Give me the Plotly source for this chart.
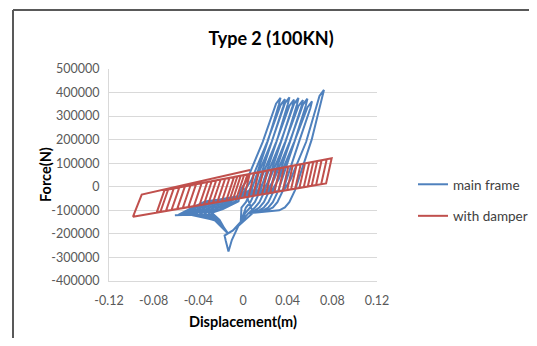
import plotly.graph_objects as go

# ---------------- data ----------------
x_tick_vals = [-0.12, -0.08, -0.04, 0, 0.04, 0.08, 0.12]
x_tick_text = ["-0.12", "-0.08", "-0.04", "0", "0.04", "0.08", "0.12"]
y_tick_vals = [500000, 400000, 300000, 200000, 100000, 0, -100000, -200000, -300000, -400000]
y_tick_text = ["500000", "400000", "300000", "200000", "100000", "0",
               "-100000", "-200000", "-300000", "-400000"]

# main frame: initial pinched spike, then nine growing cycles
blue_spike = [(0, 0), (0.009, -110000), (0.002, -140000), (-0.004, -165000),
              (-0.010, -226000), (-0.013, -275000), (-0.0155, -228000),
              (-0.0165, -207000), (-0.0135, -198000), (-0.0165, -178000),
              (-0.021, -140000), (-0.028, -110000)]
blue_c1 = [(-0.018, -95000), (-0.004, -62000), (-0.0024, -15000), (0.0036, 30000),
           (0.0176, 190000), (0.0296, 353000), (0.0336, 378000), (0.0321, 348000),
           (0.0226, 200000), (0.0076, -15000), (0.0026, -65000), (-0.0014, -88000),
           (-0.002, -150000), (-0.009, -185000), (-0.0135, -198000),
           (-0.0175, -170000), (-0.023, -133000), (-0.031, -112000)]
blue_c2 = [(-0.021, -95000), (-0.007, -62000), (0.0016, -15000), (0.0076, 30000),
           (0.0216, 190000), (0.0336, 347000), (0.0376, 372000), (0.0361, 342000),
           (0.0266, 200000), (0.0116, -15000), (0.0066, -65000), (0.0026, -88000),
           (-0.002, -150000), (-0.009, -185000), (-0.0135, -198000),
           (-0.0185, -164000), (-0.026, -129000), (-0.035, -113000)]
blue_c3 = [(-0.025, -95000), (-0.011, -62000), (0.0056, -15000), (0.0116, 30000),
           (0.0256, 190000), (0.0376, 355000), (0.0416, 380000), (0.0401, 350000),
           (0.0306, 200000), (0.0156, -15000), (0.0106, -65000), (0.0066, -88000),
           (0.002, -112000), (-0.002, -150000), (-0.009, -185000), (-0.0135, -198000),
           (-0.0195, -159000), (-0.029, -126000), (-0.039, -114000)]
blue_c4 = [(-0.029, -95000), (-0.015, -62000), (0.0097, -15000), (0.0157, 30000),
           (0.0297, 190000), (0.0417, 345000), (0.0457, 370000), (0.0442, 340000),
           (0.0347, 200000), (0.0197, -15000), (0.0147, -65000), (0.0107, -88000),
           (0.005, -112000), (-0.002, -150000), (-0.009, -185000), (-0.0135, -198000),
           (-0.0205, -155000), (-0.032, -124000), (-0.043, -115000)]
blue_c5 = [(-0.033, -95000), (-0.019, -62000), (0.0137, -15000), (0.0197, 30000),
           (0.0337, 190000), (0.0457, 352000), (0.0497, 377000), (0.0482, 347000),
           (0.0387, 200000), (0.0237, -15000), (0.0187, -65000), (0.0147, -88000),
           (0.0097, -103000), (0.005, -112000), (-0.002, -150000), (-0.009, -185000),
           (-0.0135, -198000), (-0.0215, -151000), (-0.035, -122000), (-0.047, -116000)]
blue_c6 = [(-0.037, -95000), (-0.023, -62000), (0.0177, -15000), (0.0237, 30000),
           (0.0377, 190000), (0.0497, 343000), (0.0537, 368000), (0.0522, 338000),
           (0.0427, 200000), (0.0277, -15000), (0.0227, -65000), (0.0187, -88000),
           (0.0137, -102000), (0.005, -112000), (-0.002, -150000), (-0.009, -185000),
           (-0.0135, -198000), (-0.0225, -148000), (-0.038, -121000), (-0.051, -117000)]
blue_c7 = [(-0.041, -95000), (-0.027, -62000), (0.0217, -15000), (0.0277, 30000),
           (0.0417, 190000), (0.0537, 349000), (0.0577, 374000), (0.0562, 344000),
           (0.0467, 200000), (0.0317, -15000), (0.0267, -65000), (0.0227, -88000),
           (0.0177, -101000), (0.005, -112000), (-0.002, -150000), (-0.009, -185000),
           (-0.0135, -198000), (-0.0235, -145000), (-0.041, -120000), (-0.055, -118000)]
blue_c8 = [(-0.045, -95000), (-0.031, -62000), (0.0258, -15000), (0.0318, 30000),
           (0.0458, 190000), (0.0578, 338000), (0.0618, 363000), (0.0603, 333000),
           (0.0508, 200000), (0.0358, -15000), (0.0308, -65000), (0.0268, -88000),
           (0.0218, -100000), (0.005, -112000), (-0.002, -150000), (-0.009, -185000),
           (-0.0135, -198000), (-0.0245, -143000), (-0.044, -119000), (-0.058, -119000)]
blue_c9 = [(-0.048, -95000), (-0.034, -62000), (0.0365, -15000), (0.0425, 30000),
           (0.0565, 190000), (0.0685, 386000), (0.0725, 411000), (0.0710, 381000),
           (0.0615, 200000), (0.0465, -15000), (0.0415, -65000), (0.0375, -88000),
           (0.0325, -100000), (0.005, -112000), (-0.002, -150000), (-0.009, -185000),
           (-0.0135, -198000), (-0.0255, -141000), (-0.047, -119000), (-0.061, -121000)]

# with damper: parallelogram loops (top-right, bottom-right, bottom-left, top-left)
red_top_right_x = [0.006, 0.010, 0.014, 0.018, 0.022, 0.0257, 0.0293, 0.0331, 0.0367, 0.0406,
                   0.0445, 0.048, 0.0517, 0.0555, 0.0594, 0.063, 0.0665, 0.0704, 0.075, 0.0794]
red_top_right_y = [54430, 58050, 61670, 65290, 68910, 72260, 75520, 78960, 82210, 85740,
                   89270, 92440, 95790, 99230, 102760, 106020, 109180, 112710, 116880, 120860]
red_bot_right_x = [0.001, 0.005, 0.009, 0.013, 0.017, 0.0207, 0.0243, 0.0281, 0.0317, 0.0356,
                   0.0395, 0.043, 0.0467, 0.0505, 0.0544, 0.058, 0.0615, 0.0654, 0.070, 0.0744]
red_bot_right_y = [-45580, -42310, -39040, -35770, -32490, -29470, -26520, -23410, -20470, -17280,
                   -14090, -11230, -8200, -5090, -1900, 1040, 3910, 7100, 10860, 14460]
red_bot_left_x = [-0.003, -0.006, -0.009, -0.012, -0.015, -0.019, -0.023, -0.027, -0.031, -0.035,
                  -0.039, -0.044, -0.049, -0.054, -0.059, -0.064, -0.069, -0.074, -0.0773, -0.0985]
red_bot_left_y = [-48850, -51310, -53760, -56220, -58670, -61940, -65210, -68490, -71760, -75030,
                  -78300, -82390, -86480, -90570, -94660, -98750, -102840, -106930, -109630, -126970]
red_top_left_x = [0.004, 0.001, -0.002, -0.005, -0.008, -0.012, -0.016, -0.020, -0.024, -0.028,
                  -0.032, -0.037, -0.042, -0.047, -0.052, -0.057, -0.062, -0.067, -0.0703, -0.0907]
red_top_left_y = [52620, 49910, 47190, 44480, 41760, 38140, 34520, 30900, 27280, 23660,
                  20040, 15520, 10990, 6470, 1940, -2590, -7110, -11640, -14620, -33000]
red_start = (0, 0)
red_end = (0.0063, 71000)

# ---------------- build traces ----------------
blue_pts = blue_spike + blue_c1 + blue_c2 + blue_c3 + blue_c4 + blue_c5 + blue_c6 + blue_c7 + blue_c8 + blue_c9
blue_x = [p[0] for p in blue_pts]
blue_y = [p[1] for p in blue_pts]

red_x = [red_start[0]]
red_y = [red_start[1]]
for i in range(len(red_top_right_x)):
    red_x += [red_top_right_x[i], red_bot_right_x[i], red_bot_left_x[i], red_top_left_x[i]]
    red_y += [red_top_right_y[i], red_bot_right_y[i], red_bot_left_y[i], red_top_left_y[i]]
red_x.append(red_end[0])
red_y.append(red_end[1])

FONT = "Lato, 'Open Sans', sans-serif"

# the page body adds an 8px margin on each side: keep the figure inside the window
W, H = 521, 330
L, R, T, B = 101, 369, 61, 273   # plot area in figure pixels
PW, PH = R - L, B - T

fig = go.Figure()
fig.add_trace(go.Scatter(x=blue_x, y=blue_y, mode="lines", name="main frame",
                         line=dict(color="#4F81BD", width=2), legendgroup="a"))
fig.add_trace(go.Scatter(x=red_x, y=red_y, mode="lines", name="with damper",
                         line=dict(color="#C0504D", width=2), legendgroup="b"))

frame_left = (5 - L) / PW
frame_top = (B - 2) / PH
frame_right = (W - L) / PW
frame_bottom = (B - H) / PH

fig.update_layout(
    width=W, height=H,
    margin=dict(l=L, r=W - R, t=T, b=H - B, autoexpand=False),
    paper_bgcolor="white", plot_bgcolor="white",
    font=dict(family=FONT, color="#595959", size=12),
    title=dict(text="<b>Type 2 (100KN)</b>", x=263 / W, xanchor="center",
               y=1 - 31 / H, yanchor="middle",
               font=dict(family=FONT, size=18, color="#000000")),
    showlegend=True,
    legend=dict(x=(405 - L) / PW, xanchor="left", y=(B - 161) / PH, yanchor="top",
                font=dict(family=FONT, size=13.5, color="#404040"),
                tracegroupgap=11, bgcolor="rgba(0,0,0,0)", traceorder="grouped"),
    xaxis=dict(range=[-0.12, 0.12], tickvals=x_tick_vals, ticktext=x_tick_text,
               showgrid=False, zeroline=False, showline=True, linecolor="#D9D9D9",
               linewidth=1, ticks="", tickfont=dict(size=12.5, color="#595959"),
               ticklabelstandoff=8,
               title=dict(text="<b>Displacement(m)</b>", standoff=9,
                          font=dict(size=14.5, color="#000000"))),
    yaxis=dict(range=[-400000, 500000], tickvals=y_tick_vals, ticktext=y_tick_text,
               showgrid=True, gridcolor="#D9D9D9", gridwidth=1, zeroline=False,
               showline=True, linecolor="#D9D9D9", linewidth=1, ticks="",
               tickfont=dict(size=12.5, color="#595959"), ticklabelstandoff=6),
    annotations=[dict(text="<b>Force(N)</b>", textangle=-90, xref="paper", yref="paper",
                      x=(37 - L) / PW, y=0.5, xanchor="center", yanchor="middle",
                      showarrow=False, font=dict(family=FONT, size=14.5, color="#000000"))],
    shapes=[
        dict(type="line", xref="paper", yref="paper",
             x0=frame_left, x1=frame_left, y0=frame_bottom, y1=frame_top,
             line=dict(color="#595959", width=2), layer="below"),
        dict(type="line", xref="paper", yref="paper",
             x0=frame_left, x1=frame_right, y0=frame_top, y1=frame_top,
             line=dict(color="#595959", width=2), layer="below"),
    ],
)

fig.write_html("out.html")
